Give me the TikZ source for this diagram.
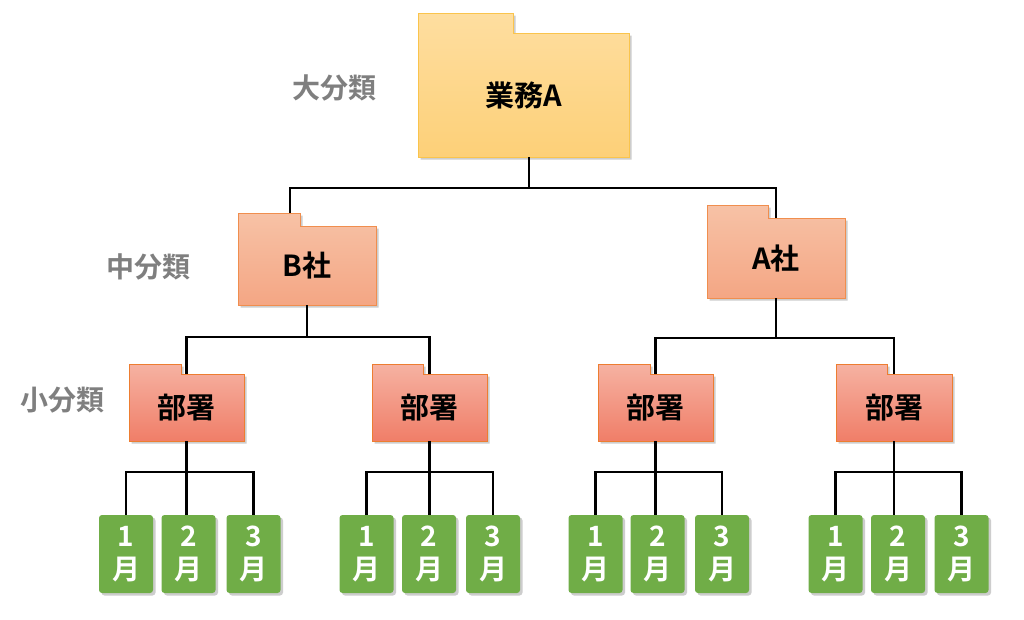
\documentclass[tikz,border=0pt]{standalone}
\usepackage{fontspec}
\newfontfamily\jpb{Noto Sans CJK JP Bold}
\usetikzlibrary{shadows}
\definecolor{ytop}{RGB}{254,222,160}
\definecolor{ybot}{RGB}{253,208,120}
\definecolor{ybord}{RGB}{250,196,76}
\definecolor{otop}{RGB}{247,194,166}
\definecolor{obot}{RGB}{244,166,132}
\definecolor{obord}{RGB}{240,142,78}
\definecolor{rtop}{RGB}{246,178,162}
\definecolor{rbot}{RGB}{240,126,104}
\definecolor{rbord}{RGB}{237,125,49}
\definecolor{mgreen}{RGB}{112,173,71}
\definecolor{lgray}{RGB}{127,127,127}
\tikzset{
  softshadow/.style={drop shadow={opacity=0.28, shadow xshift=2.5pt, shadow yshift=-2.5pt, fill=black!70}},
  yfold/.style={draw=ybord, line width=1pt, top color=ytop, bottom color=ybot, softshadow},
  ofold/.style={draw=obord, line width=1pt, top color=otop, bottom color=obot, softshadow},
  rfold/.style={draw=rbord, line width=1pt, top color=rtop, bottom color=rbot, softshadow},
  foldtext/.style={inner sep=0pt, font=\jpb\fontsize{29}{33}\selectfont, text=black},
  month/.style={fill=mgreen, rounded corners=3pt, minimum width=54pt, minimum height=78pt, inner sep=0pt,
    align=center, text=white, font=\jpb\fontsize{28}{33}\selectfont, softshadow},
  lvl/.style={inner sep=0pt, font=\jpb\fontsize{28}{32}\selectfont, text=lgray},
  conn/.style={draw=black, line width=2.4pt}
}
\newcommand\fold[9]{%
  \path[#8] (#2,#3) -- (#4,#3) -- (#4,#5) -- (#6,#5) -- (#6,#7) -- (#2,#7) -- cycle;
  \node[foldtext, minimum width={(#6-#2)*1pt}, minimum height={(#7-#5)*1pt}] (#1) at ({(#2+#6)/2},{(#5+#7)/2}) {\raisebox{2.5pt}{#9}};
}
\begin{document}
\begin{tikzpicture}[x=1pt,y=-1pt]
\useasboundingbox[fill=white] (0,0) rectangle (1024,619);

% level labels
\node[lvl] (L1) at (334,88) {大分類};
\node[lvl] (L2) at (148,267) {中分類};
\node[lvl] (L3) at (62,400) {小分類};

% folders
\fold{bA}{418}{13}{513}{33}{629}{157}{yfold}{業務A}
\fold{nB}{238}{213}{300}{226}{376}{305}{ofold}{B社}
\fold{nA}{707}{205}{768}{218}{845}{298}{ofold}{A社}
\fold{d1}{129}{364}{181}{374}{244}{441}{rfold}{部署}
\fold{d2}{372}{364}{423}{374}{487}{441}{rfold}{部署}
\fold{d3}{598}{364}{650}{374}{713}{441}{rfold}{部署}
\fold{d4}{836}{364}{887}{374}{952}{441}{rfold}{部署}

% months
\foreach \k/\a/\b/\c in {1/126/188.5/253.5, 2/366.5/429/493, 3/595.5/657.5/722, 4/835.5/898/961.5}{
  \node[month] (m\k1) at (\a,554) {1\\月};
  \node[month] (m\k2) at (\b,554) {2\\月};
  \node[month] (m\k3) at (\c,554) {3\\月};
}

% connectors
\coordinate (j0) at (529,188);
\coordinate (nBin) at (290,213);
\draw[conn] (bA.south -| j0) -- (j0);
\draw[conn] (nBin) |- (j0) -| (nA.north);

\draw[conn] (nB.south) -- ++(0,32) coordinate (j1);
\draw[conn] (d1.north) |- (j1) -| (d2.north);
\draw[conn] (nA.south) -- ++(0,40) coordinate (j2);
\draw[conn] (d3.north) |- (j2) -| (d4.north);

\foreach \k in {1,2,3,4}{
  \draw[conn] (d\k.south) -- ++(0,31) coordinate (jj\k);
  \draw[conn] (m\k1.north) |- (jj\k) -| (m\k3.north);
  \draw[conn] (jj\k) -- (jj\k |- m\k2.north);
}
\end{tikzpicture}
\end{document}
